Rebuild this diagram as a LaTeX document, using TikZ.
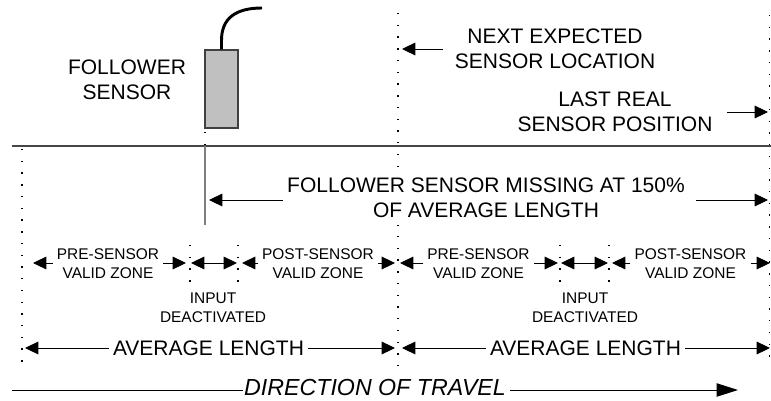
\documentclass[tikz,border=0pt]{standalone}
\usepackage{fontspec}
\setmainfont{Liberation Sans}
\usetikzlibrary{arrows.meta}
\definecolor{sensorfill}{RGB}{192,192,192}
\definecolor{sensoredge}{RGB}{64,64,64}
\definecolor{hcol}{RGB}{70,70,70}
\definecolor{vcol}{RGB}{128,128,128}
\tikzset{
  big/.style={font=\fontsize{15.75pt}{18.75pt}\selectfont, align=center, inner sep=1pt},
  small/.style={font=\fontsize{11.6pt}{14.3pt}\selectfont, align=center, inner sep=3pt},
  arr/.style={-{Triangle[length=10pt,width=9.5pt]}, line width=0.75pt},
  darr/.style={{Triangle[length=10pt,width=9.5pt]}-{Triangle[length=10pt,width=9.5pt]}, line width=0.75pt},
  longarr/.style={-{Triangle[length=16pt,width=10pt]}, line width=0.75pt},
  dotline/.style={line width=1.05pt, dash pattern=on 1.05pt off 7.75pt},
}
\begin{document}
\begin{tikzpicture}[x=0.75pt,y=-0.75pt]
\useasboundingbox (0,0) rectangle (771,400);

% sensor
\node[draw=sensoredge, fill=sensorfill, line width=0.8pt, minimum width=24.75pt, minimum height=58.5pt, inner sep=0pt] (sensor) at (221.5,89) {};
\coordinate (cableend) at (262,8);
\draw[line width=2.2pt] (sensor.north) -- ++(0,-8) .. controls (221,18) and (236,8) .. (cableend);

\node[big] (fs) at (127,79.5) {FOLLOWER\\SENSOR};

% dotted location lines
\draw[dotline] (205,132) -- (205,146);
\draw[dotline] (22,149) -- (22,370);
\draw[dotline] (398,13) -- (398,370);
\draw[dotline] (769.5,15) -- (769.5,362);
\draw[dotline] (190,245) -- (190,284);
\draw[dotline] (238,245) -- (238,284);
\draw[dotline] (560,245) -- (560,284);
\draw[dotline] (609,245) -- (609,284);

% horizontal reference line and sensor line
\coordinate (hl) at (12,146);
\coordinate (hr) at (771,146);
\draw[hcol, line width=0.9pt] (hl) -- (hr);
\coordinate (vtop) at (205,146);
\coordinate (vbot) at (205,225);
\draw[vcol, line width=1pt] (vtop) -- (vbot);

% top labels
\node[big] (nx) at (555,49) {NEXT EXPECTED\\SENSOR LOCATION};
\coordinate (nxt) at (402,49);
\draw[arr] ([xshift=-8pt]nx.west) -- (nxt);

\node[big] (lr) at (615,112) {LAST REAL\\SENSOR POSITION};
\coordinate (lrt) at (768,112);
\draw[arr] ([xshift=10pt]lr.east) -- (lrt);

% missing
\node[big, fill=white, inner xsep=3pt, inner ysep=5pt] (miss) at (486,198) {FOLLOWER SENSOR MISSING AT 150\%\\OF AVERAGE LENGTH};
\coordinate (mL) at (209,200);
\coordinate (mR) at (768,200);
\draw[arr] (miss.west |- mL) -- (mL);
\draw[arr] ([xshift=5pt]miss.east |- mR) -- (mR);

% zones, first length
\node[small] (pre1) at (108,263.5) {PRE-SENSOR\\VALID ZONE};
\coordinate (pre1l) at (33,263);
\coordinate (pre1r) at (186,263);
\draw[arr] (pre1.west |- pre1l) -- (pre1l);
\draw[arr] (pre1.east |- pre1r) -- (pre1r);
\coordinate (in1l) at (191,263);
\coordinate (in1r) at (237,263);
\draw[darr] (in1l) -- (in1r);
\node[small] (post1) at (318,263.5) {POST-SENSOR\\VALID ZONE};
\coordinate (post1l) at (242,263);
\coordinate (post1r) at (395,263);
\draw[arr] (post1.west |- post1l) -- (post1l);
\draw[arr] (post1.east |- post1r) -- (post1r);
\node[small, inner sep=1pt] (inp1) at (213,308) {INPUT\\DEACTIVATED};

% zones, second length
\node[small] (pre2) at (478.5,263.5) {PRE-SENSOR\\VALID ZONE};
\coordinate (pre2l) at (400,263);
\coordinate (pre2r) at (558,263);
\draw[arr] (pre2.west |- pre2l) -- (pre2l);
\draw[arr] (pre2.east |- pre2r) -- (pre2r);
\coordinate (in2l) at (561,263);
\coordinate (in2r) at (608,263);
\draw[darr] (in2l) -- (in2r);
\node[small] (post2) at (690.5,263.5) {POST-SENSOR\\VALID ZONE};
\coordinate (post2l) at (612,263);
\coordinate (post2r) at (770,263);
\draw[arr] (post2.west |- post2l) -- (post2l);
\draw[arr] (post2.east |- post2r) -- (post2r);
\node[small, inner sep=1pt] (inp2) at (585,308) {INPUT\\DEACTIVATED};

% average lengths
\node[big, inner sep=3pt] (avg1) at (208.5,348) {AVERAGE LENGTH};
\coordinate (avg1l) at (25,348);
\coordinate (avg1r) at (395,348);
\draw[arr] (avg1.west) -- (avg1l);
\draw[arr] (avg1.east) -- (avg1r);
\node[big, inner sep=3pt] (avg2) at (585.5,348) {AVERAGE LENGTH};
\coordinate (avg2l) at (402,348);
\coordinate (avg2r) at (770,348);
\draw[arr] (avg2.west) -- (avg2l);
\draw[arr] (avg2.east) -- (avg2r);

% direction of travel
\node[big, font=\fontsize{17.4pt}{20pt}\selectfont\itshape, inner sep=1pt] (dir) at (375,388) {DIRECTION OF TRAVEL};
\coordinate (dirl) at (12,390);
\coordinate (dirr) at (738,390);
\draw[line width=0.75pt] (dirl) -- (dir.west |- dirl);
\draw[longarr] ([xshift=2pt]dir.east |- dirr) -- (dirr);
\end{tikzpicture}
\end{document}
